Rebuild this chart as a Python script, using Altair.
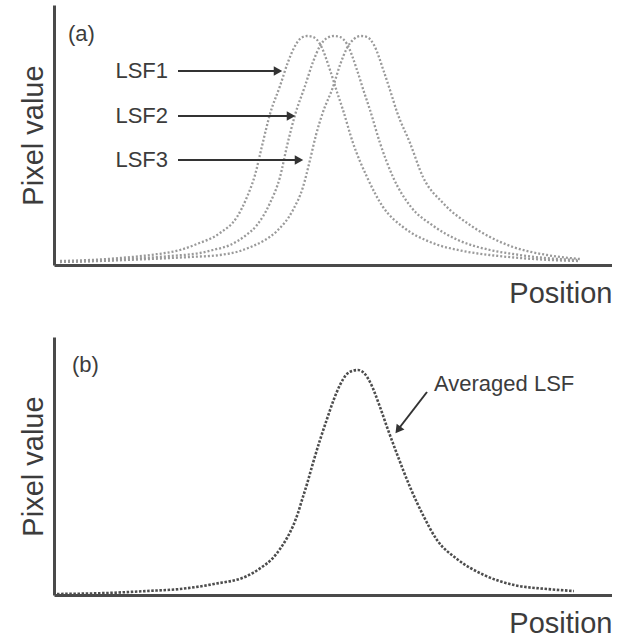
import altair as alt
import pandas as pd

# ---------------- data ----------------
# Panel (a): three line spread functions, position (a.u.) vs pixel value (a.u.)
lsf1_pos = [6, 36, 66, 96, 126, 143, 166, 183, 193, 201, 208, 216, 226, 234, 241, 247, 253, 259,
            266, 276, 283, 289, 299, 313, 329, 349, 376, 409, 436, 466, 496, 524]
lsf1_val = [4, 5, 7, 10, 15, 21, 32, 48, 68, 90, 119, 151, 179, 203, 219, 227, 229, 228,
            221, 195, 173, 155, 122, 88, 58, 38, 23, 14, 10, 7, 5, 4]

lsf2_pos = [6, 36, 76, 116, 146, 159, 176, 191, 203, 216, 226, 233, 241, 251, 259, 266, 273, 280,
            286, 293, 303, 310, 316, 326, 339, 357, 378, 404, 436, 459, 491, 523]
lsf2_val = [3, 4, 6, 9, 12, 15, 20, 29, 40, 62, 88, 119, 150, 179, 203, 219, 227, 229,
            228, 221, 195, 173, 155, 122, 88, 58, 40, 25, 15, 11, 7, 5]

lsf3_pos = [6, 46, 96, 136, 166, 186, 199, 211, 223, 239, 249, 256, 262, 269, 279, 286, 293, 300,
            307, 313, 320, 330, 336, 343, 356, 369, 389, 416, 436, 459, 493, 526]
lsf3_val = [3, 4, 6, 8, 10, 14, 19, 25, 34, 55, 78, 105, 130, 153, 178, 200, 217, 226,
            229, 228, 220, 193, 175, 153, 122, 88, 62, 40, 28, 18, 10, 6]

# Panel (b): averaged LSF
avg_pos = [3, 53, 93, 126, 160, 193, 208, 218, 226, 233, 239, 244, 248, 253, 259, 266, 273, 280,
           286, 292, 298, 304, 310, 316, 326, 333, 343, 356, 370, 383, 403, 430, 460, 493, 520]
avg_val = [1, 2, 4, 6, 11, 19, 28, 36, 46, 57, 69, 82, 95, 111, 132, 155, 176, 196,
           210, 220, 224, 225, 222, 213, 188, 168, 141, 108, 78, 55, 36, 20, 10, 6, 4]

# Annotation labels
a_labels = ["LSF1", "LSF2", "LSF3"]
a_label_pos = [114, 114, 114]
a_label_val = [194, 149, 105]
a_arrow_start = [124, 124, 124]
a_arrow_end = [222, 236, 244]
a_head_pos = [224, 237, 245]

b_label = ["Averaged LSF"]
b_label_pos = [380]
b_label_val = [211]
b_arrow = dict(pos=[373], val=[203], pos2=[346], val2=[168])
b_head = dict(pos=[344], val=[165])

TEXT = "#3c3c3c"
FONT = "Liberation Sans"

# ---------------- tables ----------------
curves_a = pd.concat([
    pd.DataFrame({"pos": lsf1_pos, "val": lsf1_val, "series": "LSF1"}),
    pd.DataFrame({"pos": lsf2_pos, "val": lsf2_val, "series": "LSF2"}),
    pd.DataFrame({"pos": lsf3_pos, "val": lsf3_val, "series": "LSF3"}),
])
curve_b = pd.DataFrame({"pos": avg_pos, "val": avg_val, "series": "Averaged LSF"})

lab_a = pd.DataFrame({"pos": a_label_pos, "val": a_label_val, "text": a_labels})
arr_a = pd.DataFrame({"pos": a_arrow_start, "pos2": a_arrow_end, "val": a_label_val, "val2": a_label_val})
head_a = pd.DataFrame({"pos": a_head_pos, "val": a_label_val})

lab_b = pd.DataFrame({"pos": b_label_pos, "val": b_label_val, "text": b_label})
arr_b = pd.DataFrame(b_arrow)
head_b = pd.DataFrame(b_head)

W = 558


def axes(h):
    x = alt.X("pos:Q",
              scale=alt.Scale(domain=[0, W], nice=False, zero=False),
              axis=alt.Axis(title="Position", ticks=False, labels=False, grid=False,
                            titleAnchor="end", titleFontSize=29, titleFontWeight="normal",
                            titleFont=FONT, titleColor=TEXT, titlePadding=14,
                            domainWidth=3, domainColor="#4a4a4a"))
    y = alt.Y("val:Q",
              scale=alt.Scale(domain=[0, h], nice=False, zero=False),
              axis=alt.Axis(title="Pixel value", ticks=False, labels=False, grid=False,
                            titleAnchor="middle", titleFontSize=29, titleFontWeight="normal",
                            titleFont=FONT, titleColor=TEXT, titlePadding=6,
                            domainWidth=3, domainColor="#4a4a4a"))
    return x, y


def panel(curves, color, width, dash, labels, arrows, heads, head_shape, head_angle,
          label_align, tag, h):
    x, y = axes(h)
    line = alt.Chart(curves).mark_line(
        color=color, strokeWidth=width, strokeDash=dash, interpolate="monotone"
    ).encode(x=x, y=y, detail="series:N")
    rules = alt.Chart(arrows).mark_rule(color="#333333", strokeWidth=2).encode(
        x=x, y=y, x2="pos2:Q", y2="val2:Q")
    hd = alt.Chart(heads).mark_point(
        shape=head_shape, angle=head_angle, filled=True, size=95, color="#333333", opacity=1
    ).encode(x=x, y=y)
    txt = alt.Chart(labels).mark_text(
        align=label_align, baseline="middle", fontSize=22, font=FONT, color=TEXT
    ).encode(x=x, y=y, text="text:N")
    tg = alt.Chart(pd.DataFrame({"pos": [tag[1]], "val": [tag[2]], "text": [tag[0]]})).mark_text(
        align="left", baseline="middle", fontSize=22, font=FONT, color=TEXT
    ).encode(x=x, y=y, text="text:N")
    return alt.layer(line, rules, hd, txt, tg).properties(width=W, height=h)


top = panel(curves_a, "#9a9a9a", 2.3, [2, 2], lab_a, arr_a, head_a,
            "triangle-right", 0, "right", ("(a)", 14, 231), 260)
bottom = panel(curve_b, "#4d4d4d", 2.6, [2.5, 1.6], lab_b, arr_b, head_b,
               "triangle-up", 217, "left", ("(b)", 18, 230), 258)

chart = alt.vconcat(top, bottom, spacing=29).properties(
    padding={"left": 19, "top": 5, "right": 0, "bottom": 0}
).configure(background="white").configure_view(stroke=None, strokeWidth=0)

chart.save("out.html", embed_options={"renderer": "svg", "actions": False})
